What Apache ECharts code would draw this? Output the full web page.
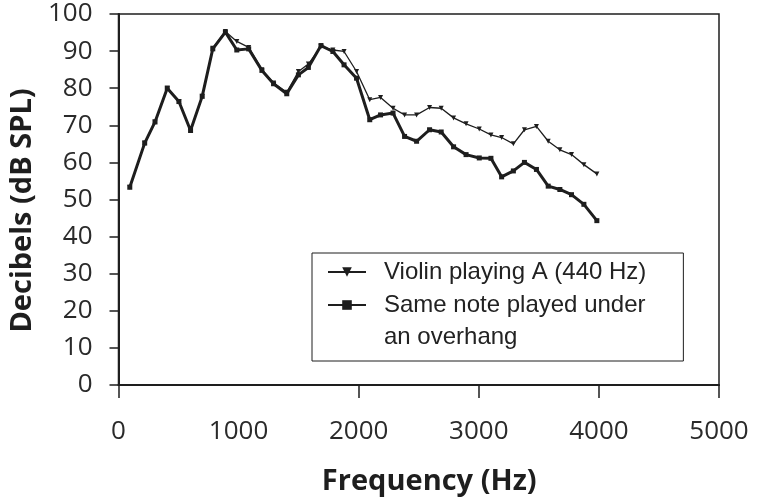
<!DOCTYPE html>
<html>
<head>
<meta charset="utf-8">
<script src="https://cdn.jsdelivr.net/npm/echarts@6/dist/echarts.min.js"></script>
<style>html,body{margin:0;padding:0;background:#fff;}#c{width:757px;height:501px;}</style>
</head>
<body>
<div id="c"></div>
<script>
var freq = [94, 218, 304, 406, 503, 600, 697, 785, 890, 985, 1084, 1194, 1291, 1401, 1498, 1581, 1686, 1785, 1878, 1982, 2092, 2182, 2286, 2382, 2482, 2590, 2687, 2790, 2894, 3004, 3101, 3190, 3288, 3380, 3480, 3578, 3675, 3772, 3875, 3983];
var violin = [53.3, 65.2, 70.9, 80.0, 76.4, 68.6, 77.8, 90.8, 95.3, 92.6, 91.0, 85.0, 81.4, 78.9, 84.5, 86.5, 91.2, 90.3, 89.9, 84.5, 76.9, 77.5, 74.6, 72.8, 72.8, 74.8, 74.6, 72.0, 70.4, 69.0, 67.4, 66.7, 65.0, 68.8, 69.7, 65.7, 63.4, 62.1, 59.4, 56.9];
var overhang = [53.3, 65.2, 70.9, 80.0, 76.4, 68.6, 77.8, 90.6, 95.1, 90.3, 90.6, 84.8, 81.2, 78.5, 83.6, 85.6, 91.5, 89.9, 86.3, 82.7, 71.5, 72.8, 73.3, 67.0, 65.7, 68.8, 68.2, 64.2, 62.1, 61.2, 61.1, 56.1, 57.7, 60.0, 58.1, 53.6, 52.7, 51.3, 48.7, 44.3];
var xTicks = [0, 2000, 3000, 4000, 5000];
var seriesNames = ['Violin playing A (440 Hz)', 'Same note played under an overhang'];
var legendTexts = ['Violin playing A (440 Hz)', ' \nSame note played under\nan overhang'];
var xTitle = 'Frequency (Hz)';
var yTitle = 'Decibels (dB SPL)';

function pairs(xs, ys) { return xs.map(function (x, i) { return [x, ys[i]]; }); }

var chart = echarts.init(document.getElementById('c'), null, {renderer: 'canvas'});
var ink = '#1e1e1e';
chart.setOption({
  backgroundColor: '#ffffff',
  animation: false,
  grid: {left: 116, right: 38, top: 14, bottom: 114, show: true, borderColor: ink, borderWidth: 1.5, backgroundColor: 'transparent'},
  xAxis: {
    type: 'value', min: 0, max: 5000, interval: 1000,
    name: xTitle, nameLocation: 'middle', nameGap: 82,
    nameTextStyle: {fontFamily: 'Open Sans', fontWeight: 'bold', fontSize: 29, color: ink, padding: [0, 0, 0, 21]},
    axisLine: {show: true, lineStyle: {color: ink, width: 2}},
    axisTick: {show: true, inside: false, length: 13, lineStyle: {color: ink, width: 1.5}, customValues: xTicks},
    axisLabel: {fontFamily: 'Open Sans', fontSize: 26, color: '#2a2a2a', margin: 34, formatter: function (v) { return String(v); }},
    splitLine: {show: false}
  },
  yAxis: {
    type: 'value', min: 0, max: 100, interval: 10,
    name: yTitle, nameLocation: 'middle', nameGap: 79, nameRotate: 90,
    nameTextStyle: {fontFamily: 'Open Sans', fontWeight: 'bold', fontSize: 29, color: ink, padding: [0, 22, 0, 0]},
    axisLine: {show: true, lineStyle: {color: ink, width: 2}},
    axisTick: {show: true, inside: false, length: 9, lineStyle: {color: ink, width: 1.5}},
    axisLabel: {fontFamily: 'Open Sans', fontSize: 26, color: '#2a2a2a', margin: 26},
    splitLine: {show: false}
  },
  legend: {
    orient: 'vertical', left: 312, top: 253,
    backgroundColor: '#ffffff', borderColor: ink, borderWidth: 1,
    padding: [3, 37, 8, 15], itemGap: -31, itemWidth: 38, itemHeight: 12,
    formatter: function (name) { return legendTexts[seriesNames.indexOf(name)]; },
    textStyle: {fontFamily: 'Liberation Sans', fontSize: 24, color: '#222', lineHeight: 32, padding: [0, 0, 0, 13]},
    data: [seriesNames[0], seriesNames[1]]
  },
  series: [
    {
      name: seriesNames[1], type: 'line', data: pairs(freq, overhang), z: 2,
      symbol: 'rect', symbolSize: 5, showSymbol: true,
      lineStyle: {color: ink, width: 3}, itemStyle: {color: ink}
    },
    {
      name: seriesNames[0], type: 'line', data: pairs(freq, violin), z: 3,
      symbol: 'triangle', symbolRotate: 180, symbolSize: 5, showSymbol: true,
      lineStyle: {color: ink, width: 1.3}, itemStyle: {color: ink}
    }
  ]
});
</script>
</body>
</html>
